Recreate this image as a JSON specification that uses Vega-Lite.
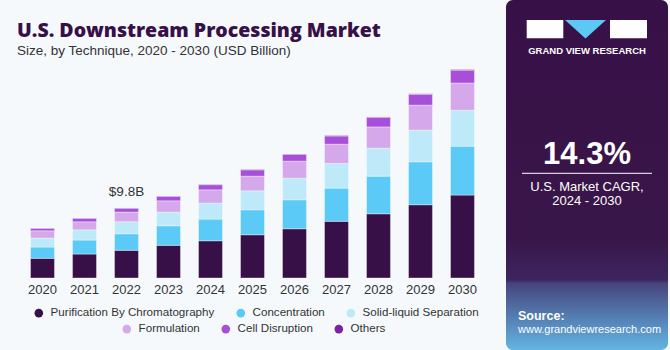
{
  "$schema": "https://vega.github.io/schema/vega-lite/v6.json",
  "background": "#f5f9fc",
  "padding": 0,
  "spacing": 0,
  "config": {"view": {"stroke": null}, "font": "Liberation Sans"},
  "hconcat": [
    {
      "width": 505,
      "height": 214,
      "title": {
        "text": ["", "U.S. Downstream Processing Market"],
        "subtitle": "Size, by Technique, 2020 - 2030 (USD Billion)",
        "anchor": "start",
        "dx": 17,
        "font": "Open Sans",
        "fontSize": 19.5,
        "fontWeight": 800,
        "lineHeight": 21,
        "color": "#371047",
        "subtitleFont": "Liberation Sans",
        "subtitleFontSize": 13.5,
        "subtitleColor": "#333333",
        "subtitlePadding": 2,
        "offset": 6
      },
      "data": {
        "values": [
          {"year": 2020, "segment": "Purification By Chromatography", "value": 2.76},
          {"year": 2020, "segment": "Concentration", "value": 1.58},
          {"year": 2020, "segment": "Solid-liquid Separation", "value": 1.26},
          {"year": 2020, "segment": "Formulation", "value": 1.02},
          {"year": 2020, "segment": "Cell Disruption", "value": 0.34},
          {"year": 2020, "segment": "Others", "value": 0.04},
          {"year": 2021, "segment": "Purification By Chromatography", "value": 3.36},
          {"year": 2021, "segment": "Concentration", "value": 1.96},
          {"year": 2021, "segment": "Solid-liquid Separation", "value": 1.44},
          {"year": 2021, "segment": "Formulation", "value": 1.12},
          {"year": 2021, "segment": "Cell Disruption", "value": 0.48},
          {"year": 2021, "segment": "Others", "value": 0.04},
          {"year": 2022, "segment": "Purification By Chromatography", "value": 3.88},
          {"year": 2022, "segment": "Concentration", "value": 2.32},
          {"year": 2022, "segment": "Solid-liquid Separation", "value": 1.68},
          {"year": 2022, "segment": "Formulation", "value": 1.36},
          {"year": 2022, "segment": "Cell Disruption", "value": 0.52},
          {"year": 2022, "segment": "Others", "value": 0.04},
          {"year": 2023, "segment": "Purification By Chromatography", "value": 4.58},
          {"year": 2023, "segment": "Concentration", "value": 2.74},
          {"year": 2023, "segment": "Solid-liquid Separation", "value": 1.92},
          {"year": 2023, "segment": "Formulation", "value": 1.58},
          {"year": 2023, "segment": "Cell Disruption", "value": 0.62},
          {"year": 2023, "segment": "Others", "value": 0.05},
          {"year": 2024, "segment": "Purification By Chromatography", "value": 5.22},
          {"year": 2024, "segment": "Concentration", "value": 3.04},
          {"year": 2024, "segment": "Solid-liquid Separation", "value": 2.24},
          {"year": 2024, "segment": "Formulation", "value": 1.86},
          {"year": 2024, "segment": "Cell Disruption", "value": 0.72},
          {"year": 2024, "segment": "Others", "value": 0.05},
          {"year": 2025, "segment": "Purification By Chromatography", "value": 6.06},
          {"year": 2025, "segment": "Concentration", "value": 3.5},
          {"year": 2025, "segment": "Solid-liquid Separation", "value": 2.66},
          {"year": 2025, "segment": "Formulation", "value": 2.06},
          {"year": 2025, "segment": "Cell Disruption", "value": 0.88},
          {"year": 2025, "segment": "Others", "value": 0.06},
          {"year": 2026, "segment": "Purification By Chromatography", "value": 6.9},
          {"year": 2026, "segment": "Concentration", "value": 4.06},
          {"year": 2026, "segment": "Solid-liquid Separation", "value": 3.04},
          {"year": 2026, "segment": "Formulation", "value": 2.38},
          {"year": 2026, "segment": "Cell Disruption", "value": 0.96},
          {"year": 2026, "segment": "Others", "value": 0.06},
          {"year": 2027, "segment": "Purification By Chromatography", "value": 7.94},
          {"year": 2027, "segment": "Concentration", "value": 4.66},
          {"year": 2027, "segment": "Solid-liquid Separation", "value": 3.46},
          {"year": 2027, "segment": "Formulation", "value": 2.7},
          {"year": 2027, "segment": "Cell Disruption", "value": 1.15},
          {"year": 2027, "segment": "Others", "value": 0.07},
          {"year": 2028, "segment": "Purification By Chromatography", "value": 9.0},
          {"year": 2028, "segment": "Concentration", "value": 5.28},
          {"year": 2028, "segment": "Solid-liquid Separation", "value": 3.92},
          {"year": 2028, "segment": "Formulation", "value": 2.98},
          {"year": 2028, "segment": "Cell Disruption", "value": 1.32},
          {"year": 2028, "segment": "Others", "value": 0.08},
          {"year": 2029, "segment": "Purification By Chromatography", "value": 10.27},
          {"year": 2029, "segment": "Concentration", "value": 6.02},
          {"year": 2029, "segment": "Solid-liquid Separation", "value": 4.44},
          {"year": 2029, "segment": "Formulation", "value": 3.5},
          {"year": 2029, "segment": "Cell Disruption", "value": 1.5},
          {"year": 2029, "segment": "Others", "value": 0.09},
          {"year": 2030, "segment": "Purification By Chromatography", "value": 11.62},
          {"year": 2030, "segment": "Concentration", "value": 6.86},
          {"year": 2030, "segment": "Solid-liquid Separation", "value": 5.04},
          {"year": 2030, "segment": "Formulation", "value": 3.82},
          {"year": 2030, "segment": "Cell Disruption", "value": 1.78},
          {"year": 2030, "segment": "Others", "value": 0.1}
        ]
      },
      "transform": [
        {"calculate": "indexof(['Purification By Chromatography', 'Concentration', 'Solid-liquid Separation', 'Formulation', 'Cell Disruption', 'Others'], datum.segment)", "as": "stackOrder"}
      ],
      "layer": [
        {
          "mark": {"type": "bar", "stroke": "#ffffff", "strokeOpacity": 0.45, "strokeWidth": 0.8},
          "encoding": {
            "x": {
              "field": "year", "type": "ordinal",
              "scale": {"paddingInner": 0.43, "paddingOuter": 0.727},
              "axis": {"title": null, "domain": false, "ticks": false, "labelAngle": 0, "labelFontSize": 13, "labelColor": "#333333", "labelPadding": 5}
            },
            "y": {
              "field": "value", "type": "quantitative", "aggregate": "sum", "stack": "zero",
              "scale": {"domain": [0, 30], "nice": false},
              "axis": null
            },
            "order": {"field": "stackOrder", "type": "quantitative", "sort": "ascending"},
            "color": {
              "field": "segment", "type": "nominal",
              "scale": {
                "domain": ["Purification By Chromatography", "Concentration", "Solid-liquid Separation", "Formulation", "Cell Disruption", "Others"],
                "range": ["#371047", "#5bcaf6", "#bde9f8", "#d5a8ec", "#a74fd9", "#7b22a0"]
              },
              "legend": {
                "values": ["Purification By Chromatography", "Concentration", "Solid-liquid Separation"],
                "orient": "none", "direction": "horizontal", "legendX": 33, "legendY": 243,
                "title": null, "padding": 0, "symbolType": "circle", "symbolSize": 75, "symbolStrokeWidth": 0,
                "labelFontSize": 11.6, "labelColor": "#333333", "labelOffset": 6, "columnPadding": 20, "labelLimit": 300
              }
            }
          }
        },
        {
          "mark": {"type": "bar", "opacity": 0},
          "encoding": {
            "x": {"field": "year", "type": "ordinal"},
            "y": {"field": "value", "type": "quantitative", "aggregate": "sum", "stack": "zero"},
            "order": {"field": "stackOrder", "type": "quantitative", "sort": "ascending"},
            "color": {
              "field": "segment", "type": "nominal",
              "scale": {
                "domain": ["Purification By Chromatography", "Concentration", "Solid-liquid Separation", "Formulation", "Cell Disruption", "Others"],
                "range": ["#371047", "#5bcaf6", "#bde9f8", "#d5a8ec", "#a74fd9", "#7b22a0"]
              },
              "legend": {
                "values": ["Formulation", "Cell Disruption", "Others"],
                "orient": "none", "direction": "horizontal", "legendX": 121, "legendY": 259,
                "title": null, "padding": 0, "symbolType": "circle", "symbolSize": 75, "symbolStrokeWidth": 0, "symbolOpacity": 1,
                "labelFontSize": 11.6, "labelColor": "#333333", "labelOffset": 6, "columnPadding": 20, "labelLimit": 300
              }
            }
          }
        },
        {
          "transform": [
            {"aggregate": [{"op": "sum", "field": "value", "as": "total"}], "groupby": ["year"]},
            {"filter": "datum.year == 2022"},
            {"calculate": "'$' + format(datum.total, '.1f') + 'B'", "as": "label"}
          ],
          "mark": {"type": "text", "dy": -16, "fontSize": 13.5, "color": "#333333"},
          "encoding": {
            "x": {"field": "year", "type": "ordinal"},
            "y": {"field": "total", "type": "quantitative"},
            "text": {"field": "label"}
          }
        }
      ],
      "resolve": {"scale": {"color": "independent"}, "legend": {"color": "independent"}}
    },
    {
      "width": 165,
      "height": 286,
      "data": {"values": [{}]},
      "layer": [
        {
          "mark": {
            "type": "rect", "cornerRadius": 7,
            "fill": {
              "x1": 0, "y1": 0, "x2": 0, "y2": 1, "gradient": "linear",
              "stops": [
                {"offset": 0, "color": "#371047"},
                {"offset": 0.68, "color": "#391649"},
                {"offset": 0.8, "color": "#3d2560"},
                {"offset": 0.81, "color": "#46457e"},
                {"offset": 1, "color": "#63b5e3"}
              ]
            }
          },
          "encoding": {
            "x": {"datum": 1, "type": "quantitative", "scale": {"domain": [0, 165], "nice": false, "zero": false}, "axis": null},
            "x2": {"datum": 163},
            "y": {"datum": 0, "type": "quantitative", "scale": {"domain": [64, 350], "nice": false, "zero": false, "reverse": true}, "axis": null},
            "y2": {"datum": 350}
          }
        },
        {
          "mark": {"type": "rect", "color": "#ffffff"},
          "encoding": {
            "x": {"datum": 21.7, "type": "quantitative"},
            "x2": {"datum": 58.3},
            "y": {"datum": 20, "type": "quantitative"},
            "y2": {"datum": 38.3}
          }
        },
        {
          "mark": {"type": "rect", "color": "#ffffff"},
          "encoding": {
            "x": {"datum": 105, "type": "quantitative"},
            "x2": {"datum": 142},
            "y": {"datum": 20, "type": "quantitative"},
            "y2": {"datum": 38.3}
          }
        },
        {
          "mark": {"type": "point", "shape": "M-1,-0.45L1,-0.45L0,0.45Z", "size": 1681, "filled": true, "color": "#5bc8f5", "opacity": 1},
          "encoding": {
            "x": {"datum": 80.5, "type": "quantitative"},
            "y": {"datum": 29.2, "type": "quantitative"}
          }
        },
        {
          "mark": {"type": "text", "text": "GRAND VIEW RESEARCH", "color": "#ffffff", "fontSize": 9.5, "fontWeight": "bold", "letterSpacing": 1.2, "baseline": "middle"},
          "encoding": {
            "x": {"datum": 82, "type": "quantitative"},
            "y": {"datum": 50.7, "type": "quantitative"}
          }
        },
        {
          "mark": {"type": "text", "text": "14.3%", "color": "#ffffff", "fontSize": 31, "fontWeight": "bold", "baseline": "middle"},
          "encoding": {
            "x": {"datum": 82, "type": "quantitative"},
            "y": {"datum": 155, "type": "quantitative"}
          }
        },
        {
          "mark": {"type": "rule", "color": "#ffffff", "strokeWidth": 1},
          "encoding": {
            "x": {"datum": 17, "type": "quantitative"},
            "x2": {"datum": 147},
            "y": {"datum": 173.3, "type": "quantitative"}
          }
        },
        {
          "mark": {"type": "text", "text": "U.S. Market CAGR,", "color": "#ffffff", "fontSize": 13, "baseline": "middle"},
          "encoding": {
            "x": {"datum": 82, "type": "quantitative"},
            "y": {"datum": 186.7, "type": "quantitative"}
          }
        },
        {
          "mark": {"type": "text", "text": "2024 - 2030", "color": "#ffffff", "fontSize": 13, "baseline": "middle"},
          "encoding": {
            "x": {"datum": 82, "type": "quantitative"},
            "y": {"datum": 201, "type": "quantitative"}
          }
        },
        {
          "mark": {"type": "text", "text": "Source:", "color": "#ffffff", "fontSize": 12.5, "fontWeight": "bold", "align": "left", "baseline": "middle"},
          "encoding": {
            "x": {"datum": 13, "type": "quantitative"},
            "y": {"datum": 316, "type": "quantitative"}
          }
        },
        {
          "mark": {"type": "text", "text": "www.grandviewresearch.com", "color": "#ffffff", "fontSize": 11, "align": "left", "baseline": "middle"},
          "encoding": {
            "x": {"datum": 13, "type": "quantitative"},
            "y": {"datum": 330, "type": "quantitative"}
          }
        }
      ]
    }
  ]
}
